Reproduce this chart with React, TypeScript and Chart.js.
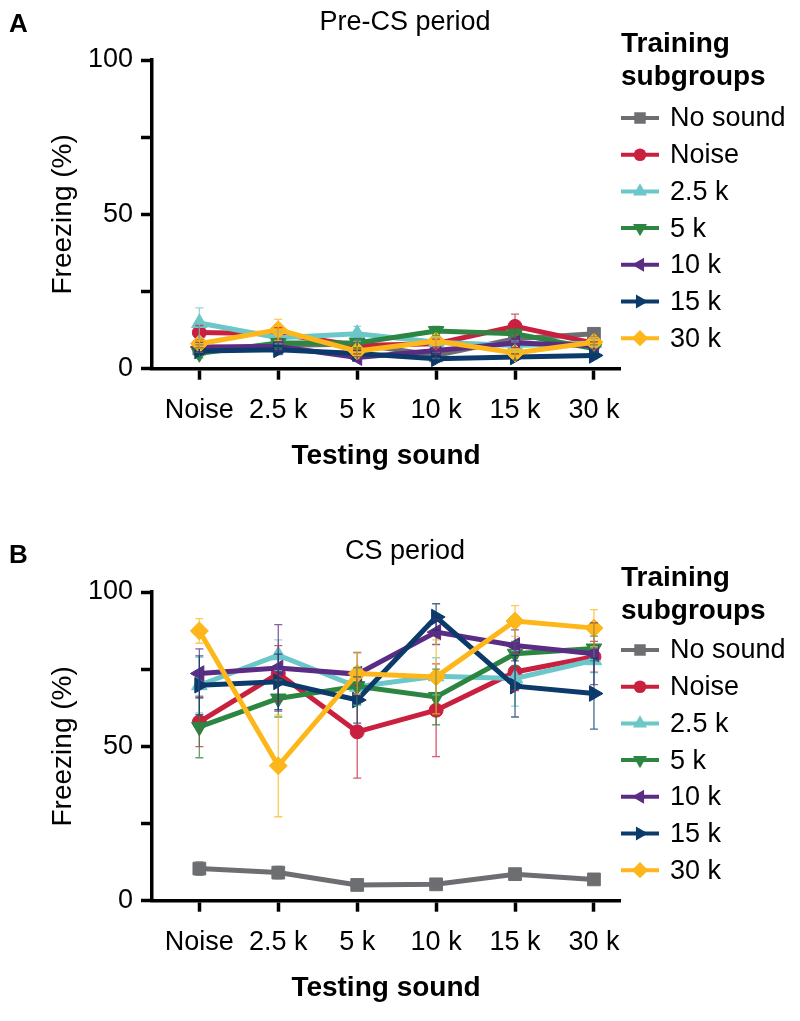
import React, { useEffect, useRef } from 'react';
import { Chart, registerables } from 'chart.js';
import { drawPoint } from 'chart.js/helpers';

Chart.register(...registerables);

const FONT = '"Liberation Sans", Arial, Helvetica, sans-serif';

const categories = ['Noise', '2.5 k', '5 k', '10 k', '15 k', '30 k'];
const subgroups = ['No sound', 'Noise', '2.5 k', '5 k', '10 k', '15 k', '30 k'];
const colors = ['#6d6e71', '#c9203f', '#6cc7c8', '#2c8642', '#5b2c84', '#0b3a6b', '#fdb71b'];
const pointStyles = ['rect', 'circle', 'triangle', 'triangle', 'triangle', 'triangle', 'rectRot'];
const pointRotations = [0, 0, 0, 180, -90, 90, 0];
const pointRadii = [9, 7, 9, 9, 9, 9, 9];

// Panel A: Pre-CS period (mean freezing %)
const preNoSound = [6.5, 7.5, 8.0, 4.3, 9.7, 11.3];
const preNoise = [11.7, 11.3, 7.5, 8.1, 13.7, 8.3];
const pre2_5k = [14.8, 10.0, 11.3, 8.6, 7.5, 8.3];
const pre5k = [5.0, 8.3, 8.3, 12.2, 11.3, 6.5];
const pre10k = [7.0, 7.2, 3.6, 5.9, 8.3, 7.5];
const pre15k = [5.7, 6.1, 4.9, 3.2, 3.8, 4.3];
const pre30k = [8.1, 12.6, 5.7, 9.0, 5.1, 8.6];

// Panel A: SEM
const preNoSoundErr = [1.2, 1.2, 1.5, 1.0, 1.2, 1.0];
const preNoiseErr = [2.3, 2.0, 1.5, 1.5, 4.0, 1.5];
const pre2_5kErr = [4.9, 2.0, 2.4, 1.5, 1.5, 1.5];
const pre5kErr = [1.5, 1.5, 1.5, 1.5, 1.5, 1.2];
const pre10kErr = [1.5, 1.5, 1.2, 1.2, 1.5, 1.2];
const pre15kErr = [1.0, 1.5, 1.0, 1.0, 1.0, 1.0];
const pre30kErr = [1.5, 3.4, 1.5, 1.5, 1.2, 1.5];

// Panel B: CS period (mean freezing %)
const csNoSound = [10.4, 9.1, 5.1, 5.3, 8.6, 6.9];
const csNoise = [57.9, 73.6, 54.7, 61.7, 74.1, 79.0];
const cs2_5k = [69.8, 79.5, 69.3, 72.7, 72.0, 77.9];
const cs5k = [56.3, 65.5, 69.5, 66.0, 80.0, 81.7];
const cs10k = [73.6, 75.4, 73.4, 87.0, 82.7, 80.0];
const cs15k = [69.8, 70.9, 65.0, 91.9, 69.5, 67.1];
const cs30k = [87.4, 43.7, 73.6, 72.5, 90.6, 88.3];

// Panel B: SEM
const csNoSoundErr = [2.2, 2.0, 1.0, 1.0, 1.2, 1.0];
const csNoiseErr = [8.0, 9.0, 15.0, 15.0, 6.0, 5.0];
const cs2_5kErr = [9.0, 5.0, 6.0, 6.0, 9.0, 4.0];
const cs5kErr = [10.0, 6.0, 6.0, 9.0, 4.0, 4.0];
const cs10kErr = [8.0, 14.0, 7.0, 4.0, 5.0, 10.0];
const cs15kErr = [9.5, 9.0, 7.5, 4.3, 10.0, 11.5];
const cs30kErr = [4.0, 16.5, 6.7, 12.0, 5.0, 6.0];

const preValues = [preNoSound, preNoise, pre2_5k, pre5k, pre10k, pre15k, pre30k];
const preErrors = [preNoSoundErr, preNoiseErr, pre2_5kErr, pre5kErr, pre10kErr, pre15kErr, pre30kErr];
const csValues = [csNoSound, csNoise, cs2_5k, cs5k, cs10k, cs15k, cs30k];
const csErrors = [csNoSoundErr, csNoiseErr, cs2_5kErr, cs5kErr, cs10kErr, cs15kErr, cs30kErr];

const W = 800;
const H = 532;

function hexA(hex: string, a: number) {
  const n = parseInt(hex.slice(1), 16);
  return `rgba(${(n >> 16) & 255},${(n >> 8) & 255},${n & 255},${a})`;
}

type PanelProps = {
  letter: string;
  title: string;
  values: number[][];
  errors: number[][];
  titleBaseline: number;
  letterBaseline: number;
  legendTitleBaselines: number[];
};

function Panel(props: PanelProps) {
  const ref = useRef<HTMLCanvasElement | null>(null);
  useEffect(() => {
    const { letter, title, values, errors, titleBaseline, letterBaseline, legendTitleBaselines } = props;
    const decor = {
      id: 'decor',
      afterDatasetsDraw(chart: any) {
        const ctx = chart.ctx;
        const xs = chart.scales.x;
        const ys = chart.scales.y;
        ctx.save();
        values.forEach((series, i) => {
          ctx.strokeStyle = hexA(colors[i], 0.75);
          ctx.lineWidth = 1.3;
          series.forEach((v, j) => {
            const e = errors[i][j];
            const x = xs.getPixelForValue(j);
            const yt = ys.getPixelForValue(v + e);
            const yb = ys.getPixelForValue(Math.max(0, v - e));
            ctx.beginPath();
            ctx.moveTo(x, yt);
            ctx.lineTo(x, yb);
            ctx.moveTo(x - 4, yt);
            ctx.lineTo(x + 4, yt);
            ctx.moveTo(x - 4, yb);
            ctx.lineTo(x + 4, yb);
            ctx.stroke();
          });
        });
        ctx.restore();
      },
      afterDraw(chart: any) {
        const ctx = chart.ctx;
        ctx.save();
        ctx.fillStyle = '#000';
        ctx.textBaseline = 'alphabetic';
        // panel letter
        ctx.textAlign = 'left';
        ctx.font = `bold 26px ${FONT}`;
        ctx.fillText(letter, 9, letterBaseline);
        // title
        ctx.textAlign = 'center';
        ctx.font = `27px ${FONT}`;
        ctx.fillText(title, 405, titleBaseline);
        // legend
        ctx.textAlign = 'left';
        ctx.font = `bold 28px ${FONT}`;
        ctx.fillText('Training', 621, legendTitleBaselines[0]);
        ctx.fillText('subgroups', 621, legendTitleBaselines[1]);
        ctx.font = `27px ${FONT}`;
        ctx.textBaseline = 'middle';
        subgroups.forEach((name, i) => {
          const y = 118 + i * 36.7;
          ctx.strokeStyle = colors[i];
          ctx.fillStyle = colors[i];
          ctx.lineWidth = 4;
          ctx.beginPath();
          ctx.moveTo(621, y);
          ctx.lineTo(659, y);
          ctx.stroke();
          drawPoint(ctx, { pointStyle: pointStyles[i] as any, rotation: pointRotations[i], radius: pointRadii[i] * 0.9, borderWidth: 0 } as any, 640, y);
          ctx.fillStyle = '#000';
          ctx.fillText(name, 670, y + 1);
        });
        ctx.restore();
      },
    };

    const chart = new Chart(ref.current as HTMLCanvasElement, {
      type: 'line',
      data: {
        datasets: values.map((series, i) => ({
          label: subgroups[i],
          data: series.map((v, j) => ({ x: j, y: v })),
          borderColor: colors[i],
          backgroundColor: colors[i],
          borderWidth: 5,
          pointStyle: pointStyles[i] as any,
          pointRotation: pointRotations[i],
          pointRadius: pointRadii[i],
          pointBorderWidth: 1,
          pointBorderColor: colors[i],
          pointBackgroundColor: colors[i],
          tension: 0,
          order: values.length - i,
        })),
      },
      options: {
        responsive: false,
        animation: false,
        layout: { padding: { top: 60, right: 180, left: 0, bottom: 0 } },
        plugins: {
          legend: { display: false },
          title: { display: false },
          tooltip: { enabled: false },
        },
        scales: {
          x: {
            type: 'linear',
            min: -0.6,
            max: 5.33,
            afterBuildTicks: (s: any) => {
              s.ticks = categories.map((_, i) => ({ value: i }));
            },
            afterFit: (s: any) => {
              s.height = H - 368.7;
            },
            ticks: {
              autoSkip: false,
              maxRotation: 0,
              color: '#000',
              padding: 15,
              font: { size: 27, family: FONT },
              callback: (v: any) => categories[v as number] ?? '',
            },
            grid: { drawOnChartArea: false, drawTicks: true, tickLength: 11, tickWidth: 3.5, tickColor: '#000' },
            border: { display: true, color: '#000', width: 3.5 },
            title: {
              display: true,
              text: 'Testing sound',
              color: '#000',
              font: { size: 28, weight: 'bold', family: FONT },
              padding: { top: 0, bottom: 59 },
            },
          },
          y: {
            min: 0,
            max: 100,
            afterFit: (s: any) => {
              s.width = 152;
            },
            ticks: {
              stepSize: 25,
              color: '#000',
              padding: 8,
              font: { size: 27, family: FONT },
              callback: (v: any) => ((v as number) % 50 === 0 ? String(v) : ''),
            },
            grid: { drawOnChartArea: false, drawTicks: true, tickLength: 11, tickWidth: 3.5, tickColor: '#000' },
            border: { display: true, color: '#000', width: 3.5 },
            title: {
              display: true,
              text: 'Freezing (%)',
              color: '#000',
              font: { size: 28, family: FONT },
              padding: { top: 46, bottom: 0 },
            },
          },
        },
      },
      plugins: [decor],
    } as any);
    return () => chart.destroy();
  }, []);
  return <canvas ref={ref} width={W} height={H} style={{ display: 'block', width: W, height: H }} />;
}

export default function App() {
  return (
    <div style={{ position: 'absolute', left: 0, top: 0, width: W, background: '#fff' }}>
      <Panel
        letter="A"
        title="Pre-CS period"
        values={preValues}
        errors={preErrors}
        titleBaseline={30}
        letterBaseline={32}
        legendTitleBaselines={[52, 85]}
      />
      <Panel
        letter="B"
        title="CS period"
        values={csValues}
        errors={csErrors}
        titleBaseline={27}
        letterBaseline={31}
        legendTitleBaselines={[54, 87]}
      />
    </div>
  );
}
